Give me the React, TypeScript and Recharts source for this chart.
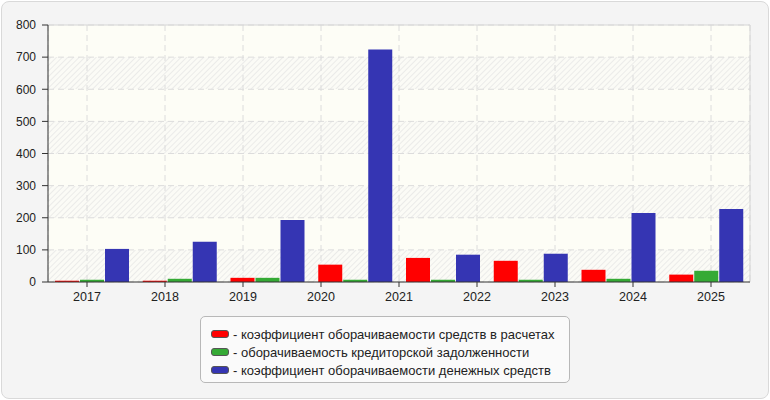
import {
  Bar,
  BarChart,
  CartesianGrid,
  ReferenceLine,
  XAxis,
  YAxis,
} from "recharts";

// подписи по оси X (9 лет), а групп столбцов на графике 8
const YEARS = ["2017", "2018", "2019", "2020", "2021", "2022", "2023", "2024", "2025"];
const SLOTS = ["1", "2", "3", "4", "5", "6", "7", "8"];

const RECEIVABLES = [4, 4, 13, 54, 75, 66, 38, 23];
const PAYABLES = [7, 10, 13, 7, 7, 7, 10, 35];
const CASH = [103, 125, 193, 724, 85, 88, 215, 227];

const Y_TICKS = [0, 100, 200, 300, 400, 500, 600, 700, 800];

const SERIES = [
  { key: "receivables", name: "коэффициент оборачиваемости средств в расчетах", color: "#ff0000" },
  { key: "payables", name: "оборачиваемость кредиторской задолженности", color: "#35aa35" },
  { key: "cash", name: "коэффициент оборачиваемости денежных средств", color: "#3535b3" },
];

const FONT = '"Liberation Sans", Arial, sans-serif';
const TEXT = "#222";
const AXIS = "#333";

const data = SLOTS.map((slot, i) => ({
  slot,
  yearPos: i + 0.5,
  receivables: RECEIVABLES[i],
  payables: PAYABLES[i],
  cash: CASH[i],
}));

const yearTicks = YEARS.map((_, i) => i + 0.5);

function Legend() {
  return (
    <div
      style={{
        position: "absolute",
        left: 200,
        top: 316,
        width: 370,
        height: 67,
        boxSizing: "border-box",
        border: "1px solid #b8b8b8",
        borderRadius: 5,
        background: "#fafafa",
        padding: "8px 0 0 10px",
        fontFamily: FONT,
        fontSize: 13,
        color: TEXT,
      }}
    >
      {SERIES.map((s) => (
        <div key={s.key} style={{ display: "flex", alignItems: "center", height: 18 }}>
          <span
            style={{
              display: "inline-block",
              width: 18,
              height: 8,
              boxSizing: "border-box",
              border: "1px solid #555",
              borderRadius: 3,
              background: s.color,
              marginRight: 4,
            }}
          />
          <span>- {s.name}</span>
        </div>
      ))}
    </div>
  );
}

export default function App() {
  return (
    <div style={{ position: "absolute", left: 0, top: 0, width: 770, height: 400, background: "#fff" }}>
      {/* штриховка для чередующихся полос фона */}
      <svg width="0" height="0" style={{ position: "absolute" }}>
        <defs>
          <pattern
            id="hatch"
            width="4"
            height="4"
            patternUnits="userSpaceOnUse"
            patternTransform="rotate(45)"
          >
            <rect width="4" height="4" fill="#fbfbf6" />
            <rect width="1" height="4" fill="#ebebe9" />
          </pattern>
        </defs>
      </svg>
      <div
        style={{
          position: "absolute",
          left: 1,
          top: 1,
          width: 768,
          height: 398,
          boxSizing: "border-box",
          border: "1px solid #d9d9d9",
          borderRadius: 8,
          background: "#f4f4f4",
        }}
      />
      <div style={{ position: "absolute", left: 0, top: 0 }}>
        <BarChart
          width={770}
          height={320}
          data={data}
          margin={{ top: 25, right: 20, left: 8, bottom: 8 }}
          barSize={24}
          barGap={1}
        >
          <CartesianGrid
            xAxisId="years"
            stroke="#dcdcdc"
            strokeDasharray="6 4"
            fill="#fdfdf6"
            horizontalFill={["#fdfdf6", "url(#hatch)"]}
            fillOpacity={1}
          />
          <XAxis xAxisId="bars" dataKey="slot" hide height={0} />
          <XAxis
            xAxisId="years"
            dataKey="yearPos"
            type="number"
            domain={[0, 9]}
            allowDataOverflow
            ticks={yearTicks}
            interval={0}
            tickFormatter={(v: number) => YEARS[Math.floor(v)]}
            height={30}
            tickSize={5}
            tickMargin={5}
            stroke={AXIS}
            tick={{ fill: TEXT, fontSize: 12.5, fontFamily: FONT }}
          />
          <YAxis
            domain={[0, 800]}
            ticks={Y_TICKS}
            interval={0}
            width={40}
            tickSize={6}
            tickMargin={6}
            stroke={AXIS}
            tick={{ fill: TEXT, fontSize: 12, fontFamily: FONT }}
          />
          <ReferenceLine y={800} xAxisId="years" stroke="#d6d6d6" />
          <ReferenceLine x={9} xAxisId="years" stroke="#d6d6d6" />
          {SERIES.map((s) => (
            <Bar
              key={s.key}
              xAxisId="bars"
              dataKey={s.key}
              name={s.name}
              fill={s.color}
              isAnimationActive={false}
            />
          ))}
        </BarChart>
      </div>
      <Legend />
    </div>
  );
}
